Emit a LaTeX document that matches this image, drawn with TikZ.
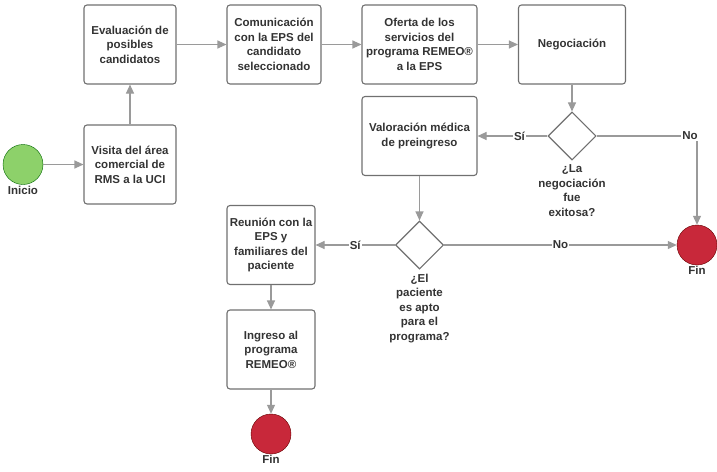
\documentclass[tikz,border=0pt]{standalone}
\usepackage{fontspec}
\setmainfont{Liberation Sans}
\usetikzlibrary{shapes.geometric, positioning, arrows.meta}
\definecolor{linegray}{HTML}{9A9A9A}
\definecolor{boxgray}{HTML}{707070}
\definecolor{txtgray}{HTML}{333333}
\definecolor{startgreen}{HTML}{8DD16A}
\definecolor{endred}{HTML}{C8283A}

\begin{document}
\begin{tikzpicture}[
    x=1pt, y=-1pt,
    font=\fontsize{11.5}{14.5}\selectfont\bfseries,
    text=txtgray,
    box/.style={draw=boxgray, line width=1.1pt, rounded corners=3pt, align=center, inner sep=0pt, minimum height=79pt},
    decision/.style={draw=boxgray, line width=1.1pt, diamond, minimum width=48pt, minimum height=48pt, inner sep=0pt},
    startnode/.style={circle, draw=green!40!black, fill=startgreen, minimum size=40pt},
    endnode/.style={circle, draw=red!40!black, fill=endred, minimum size=40pt},
    every label/.style={inner sep=1pt, label distance=0pt},
    every edge/.style={draw=linegray, line width=1.1pt, -{Triangle[length=9pt,width=8pt]}},
    answer/.style={fill=white, inner sep=1pt},
]
  \useasboundingbox (0,0) rectangle (717,471);

  \node[startnode, label=below:Inicio] (inicio) at (23,164.5) {};
  \node[box, minimum width=92pt] (visita) at (130,164.5) {Visita del área\\comercial de\\RMS a la UCI};
  \node[box, minimum width=92pt] (evalua) at (130,44.5) {Evaluación de\\posibles\\candidatos};
  \node[box, minimum width=94pt] (comunica) at (274,44.5) {Comunicación\\con la EPS del\\candidato\\seleccionado};
  \node[box, minimum width=115pt] (oferta) at (419.5,44.5) {Oferta de los\\servicios del\\programa REMEO®\\a la EPS};
  \node[box, minimum width=107pt] (negocia) at (572,44.5) {Negociación};

  \node[decision] (dec1) at (572,136) {};
  \node[below=1pt of dec1, align=center] (preg1) {¿La\\negociación\\fue\\exitosa?};
  \node[box, minimum width=115pt] (valora) at (419.5,136) {Valoración médica\\de preingreso};

  \node[decision] (dec2) at (419.5,245) {};
  \node[below=1pt of dec2, align=center] (preg2) {¿El\\paciente\\es apto\\para el\\programa?};
  \node[box, minimum width=88pt] (reunion) at (271,245) {Reunión con la\\EPS y\\familiares del\\paciente};
  \node[box, minimum width=88pt] (ingreso) at (271,349.5) {Ingreso al\\programa\\REMEO®};

  \node[endnode, label=below:Fin] (fin1) at (697,245) {};
  \node[endnode, label=below:Fin] (fin2) at (271,434) {};

  \path (inicio) edge (visita)
        (visita) edge (evalua)
        (evalua) edge (comunica)
        (comunica) edge (oferta)
        (oferta) edge (negocia)
        (negocia) edge (dec1)
        (dec1) edge node[answer, pos=0.4] {Sí} (valora)
        (dec1) edge[to path={-| (\tikztotarget) \tikztonodes}] node[answer, pos=0.465] {No} (fin1)
        (valora) edge (dec2)
        (dec2) edge node[answer] {Sí} (reunion)
        (dec2) edge node[answer] {No} (fin1)
        (reunion) edge (ingreso)
        (ingreso) edge (fin2);
\end{tikzpicture}
\end{document}
